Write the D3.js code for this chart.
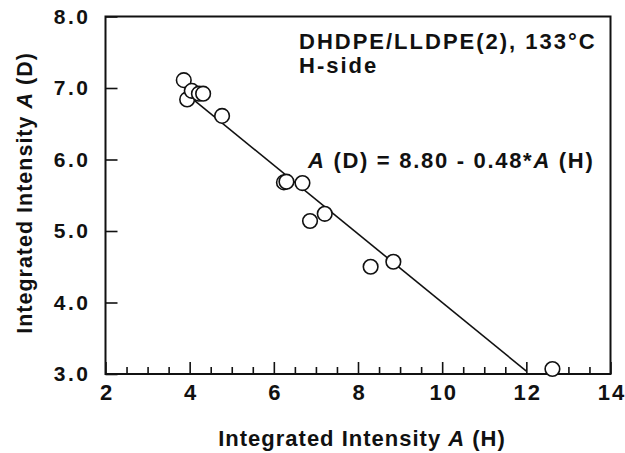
<!DOCTYPE html>
<html>
<head>
<meta charset="utf-8">
<script src="https://cdn.jsdelivr.net/npm/d3@7"></script>
<style>
  html, body { margin: 0; padding: 0; background: #fff; }
  svg text { font-family: "Liberation Sans", Arial, Helvetica, sans-serif; font-weight: bold; fill: #111; }
</style>
</head>
<body>
<svg id="chart" width="625" height="453"></svg>
<script>
// Integrated intensities measured on the H-side
const intensityH = [3.86, 3.94, 4.05, 4.22, 4.32, 4.77, 6.24, 6.30, 6.68, 6.86, 7.21, 8.30, 8.84, 12.62];
const intensityD = [7.11, 6.84, 6.96, 6.92, 6.92, 6.61, 5.68, 5.69, 5.67, 5.14, 5.24, 4.50, 4.57, 3.07];

// Least-squares fit: A(D) = intercept + slope * A(H)
const fitIntercept = 8.80;
const fitSlope = -0.48;
const fitRange = [3.9, 12.0];

const xMajorTicks = [2, 4, 6, 8, 10, 12, 14];
const yMajorTicks = [3, 4, 5, 6, 7, 8];

const svg = d3.select("#chart");
const plotL = 105.5, plotR = 610.5, plotT = 16.5, plotB = 374;

const x = d3.scaleLinear().domain([2, 14]).range([plotL, plotR]);
const y = d3.scaleLinear().domain([3, 8]).range([plotB, plotT]);

// minor x ticks every 0.5
const xMinorTicks = d3.range(2, 14.001, 0.5).filter(v => Math.abs(v % 2) > 1e-6);

const gx = svg.append("g").attr("transform", `translate(0,${plotB})`);
gx.call(d3.axisBottom(x).tickValues(xMajorTicks).tickSizeInner(-12).tickSizeOuter(0)
  .tickPadding(10).tickFormat(d3.format("d")));
gx.append("g").call(d3.axisBottom(x).tickValues(xMinorTicks).tickSizeInner(-7).tickSizeOuter(0).tickFormat(""));
gx.selectAll(".tick text").attr("font-size", 22).attr("letter-spacing", 2).attr("dx", 1);

const gy = svg.append("g").attr("transform", `translate(${plotL},0)`);
gy.call(d3.axisLeft(y).tickValues(yMajorTicks).tickSizeInner(-12).tickSizeOuter(0)
  .tickPadding(15).tickFormat(d3.format(".1f")));
gy.selectAll(".tick text").attr("font-size", 21).attr("letter-spacing", 2.5);

svg.selectAll(".domain").remove();
svg.selectAll(".tick line").attr("stroke", "#111").attr("stroke-width", 1.6);
svg.selectAll(".tick text").attr("fill", "#111");

// plot frame
svg.append("rect")
  .attr("x", plotL).attr("y", plotT)
  .attr("width", plotR - plotL).attr("height", plotB - plotT)
  .attr("fill", "none").attr("stroke", "#111").attr("stroke-width", 2);

// regression line
const line = d3.line().x(d => x(d)).y(d => y(fitIntercept + fitSlope * d));
svg.append("path")
  .datum(fitRange)
  .attr("d", line)
  .attr("fill", "none").attr("stroke", "#111").attr("stroke-width", 1.6);

// data points
svg.append("g").selectAll("circle")
  .data(intensityH.map((h, i) => [h, intensityD[i]]))
  .join("circle")
  .attr("cx", d => x(d[0]))
  .attr("cy", d => y(d[1]))
  .attr("r", 7.3)
  .attr("fill", "#fff").attr("stroke", "#111").attr("stroke-width", 1.6);

// axis titles
const xt = svg.append("text")
  .attr("x", 362).attr("y", 446)
  .attr("text-anchor", "middle").attr("font-size", 22).attr("letter-spacing", 1);
xt.append("tspan").text("Integrated Intensity ");
xt.append("tspan").attr("font-style", "italic").text("A");
xt.append("tspan").text(" (H)");

const yt = svg.append("text")
  .attr("transform", "translate(32,193) rotate(-90)")
  .attr("text-anchor", "middle").attr("font-size", 21.5).attr("letter-spacing", 1);
yt.append("tspan").text("Integrated Intensity ");
yt.append("tspan").attr("font-style", "italic").text("A");
yt.append("tspan").text(" (D)");

// annotations
svg.append("text").attr("x", 299).attr("y", 49).attr("font-size", 22).attr("letter-spacing", 2)
  .text("DHDPE/LLDPE(2), 133°C");
svg.append("text").attr("x", 299).attr("y", 73).attr("font-size", 22).attr("letter-spacing", 2)
  .text("H-side");

const eq = svg.append("text").attr("x", 308).attr("y", 168).attr("font-size", 22).attr("letter-spacing", 1.7);
eq.append("tspan").attr("font-style", "italic").text("A");
eq.append("tspan").text(" (D) = 8.80 - 0.48*");
eq.append("tspan").attr("font-style", "italic").text("A");
eq.append("tspan").text(" (H)");
</script>
</body>
</html>
